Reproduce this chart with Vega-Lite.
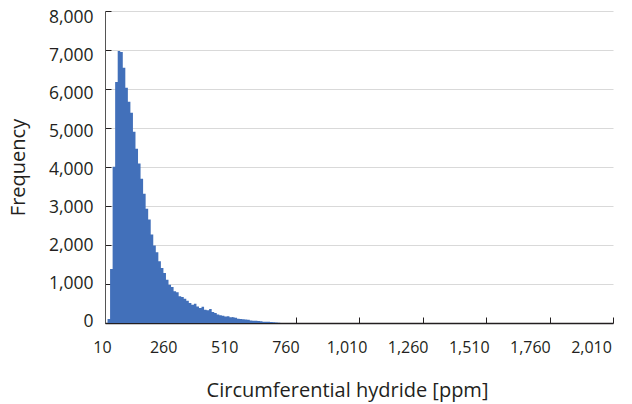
{
  "$schema": "https://vega.github.io/schema/vega-lite/v6.json",
  "width": 508,
  "height": 312,
  "autosize": "none",
  "padding": {"left": 105, "top": 11, "right": 19, "bottom": 81},
  "background": "white",
  "config": {
    "view": {"stroke": null},
    "font": "Open Sans",
    "axis": {"labelFont": "Open Sans", "titleFont": "Open Sans", "labelColor": "#231f20", "titleColor": "#231f20", "titleFontWeight": "normal"}
  },
  "data": {
    "values": [
      {"start": 20, "freq": 100},
      {"start": 30, "freq": 1386},
      {"start": 40, "freq": 4005},
      {"start": 50, "freq": 6177},
      {"start": 60, "freq": 6973},
      {"start": 70, "freq": 6950},
      {"start": 80, "freq": 6547},
      {"start": 90, "freq": 6033},
      {"start": 100, "freq": 5674},
      {"start": 110, "freq": 5391},
      {"start": 120, "freq": 4904},
      {"start": 130, "freq": 4467},
      {"start": 140, "freq": 4090},
      {"start": 150, "freq": 3697},
      {"start": 160, "freq": 3312},
      {"start": 170, "freq": 2927},
      {"start": 180, "freq": 2652},
      {"start": 190, "freq": 2267},
      {"start": 200, "freq": 1985},
      {"start": 210, "freq": 1813},
      {"start": 220, "freq": 1582},
      {"start": 230, "freq": 1412},
      {"start": 240, "freq": 1284},
      {"start": 250, "freq": 1112},
      {"start": 260, "freq": 983},
      {"start": 270, "freq": 924},
      {"start": 280, "freq": 811},
      {"start": 290, "freq": 786},
      {"start": 300, "freq": 683},
      {"start": 310, "freq": 668},
      {"start": 320, "freq": 624},
      {"start": 330, "freq": 573},
      {"start": 340, "freq": 513},
      {"start": 350, "freq": 470},
      {"start": 360, "freq": 496},
      {"start": 370, "freq": 426},
      {"start": 380, "freq": 385},
      {"start": 390, "freq": 418},
      {"start": 400, "freq": 341},
      {"start": 410, "freq": 324},
      {"start": 420, "freq": 359},
      {"start": 430, "freq": 282},
      {"start": 440, "freq": 257},
      {"start": 450, "freq": 220},
      {"start": 460, "freq": 200},
      {"start": 470, "freq": 185},
      {"start": 480, "freq": 165},
      {"start": 490, "freq": 175},
      {"start": 500, "freq": 150},
      {"start": 510, "freq": 150},
      {"start": 520, "freq": 135},
      {"start": 530, "freq": 110},
      {"start": 540, "freq": 100},
      {"start": 550, "freq": 95},
      {"start": 560, "freq": 90},
      {"start": 570, "freq": 85},
      {"start": 580, "freq": 65},
      {"start": 590, "freq": 60},
      {"start": 600, "freq": 55},
      {"start": 610, "freq": 50},
      {"start": 620, "freq": 45},
      {"start": 630, "freq": 35},
      {"start": 640, "freq": 35},
      {"start": 650, "freq": 30},
      {"start": 660, "freq": 25},
      {"start": 670, "freq": 20},
      {"start": 680, "freq": 15},
      {"start": 690, "freq": 5},
      {"start": 700, "freq": 0}
    ]
  },
  "mark": {"type": "area", "color": "#4270ba", "interpolate": "step-after"},
  "encoding": {
    "x": {
      "field": "start",
      "type": "quantitative",
      "scale": {"domain": [10, 2010], "nice": false, "zero": false},
      "axis": {
        "title": "Circumferential hydride [ppm]",
        "titleFontSize": 20,
        "titleX": 242,
        "titleY": 73,
        "titleBaseline": "alphabetic",
        "values": [10, 260, 510, 760, 1010, 1260, 1510, 1760, 2010],
        "format": ",d",
        "labelFlush": false,
        "labelFontSize": 16,
        "labelBaseline": "alphabetic",
        "labelPadding": 35,
        "labelOffset": {"expr": "-3 - (datum.value - 10) / 2000 * 19"},
        "tickSize": -6,
        "tickColor": "#231f20",
        "domainColor": "#231f20",
        "domainWidth": 1.5,
        "grid": false
      }
    },
    "y": {
      "field": "freq",
      "type": "quantitative",
      "scale": {"domain": [0, 8000], "nice": false},
      "axis": {
        "title": "Frequency",
        "titleFontSize": 20,
        "titleX": -87,
        "titleY": 156,
        "titleAngle": -90,
        "titleAlign": "center",
        "titleBaseline": "middle",
        "values": [0, 1000, 2000, 3000, 4000, 5000, 6000, 7000, 8000],
        "format": ",d",
        "labelFlush": false,
        "labelFontSize": 17.5,
        "labelPadding": 18,
        "labelOffset": {"expr": "-1.6 + datum.value / 8000 * 7.6"},
        "tickSize": -6,
        "tickColor": "#231f20",
        "domainColor": "#555555",
        "gridColor": "#d9d9d9",
        "gridWidth": 1
      }
    }
  }
}
